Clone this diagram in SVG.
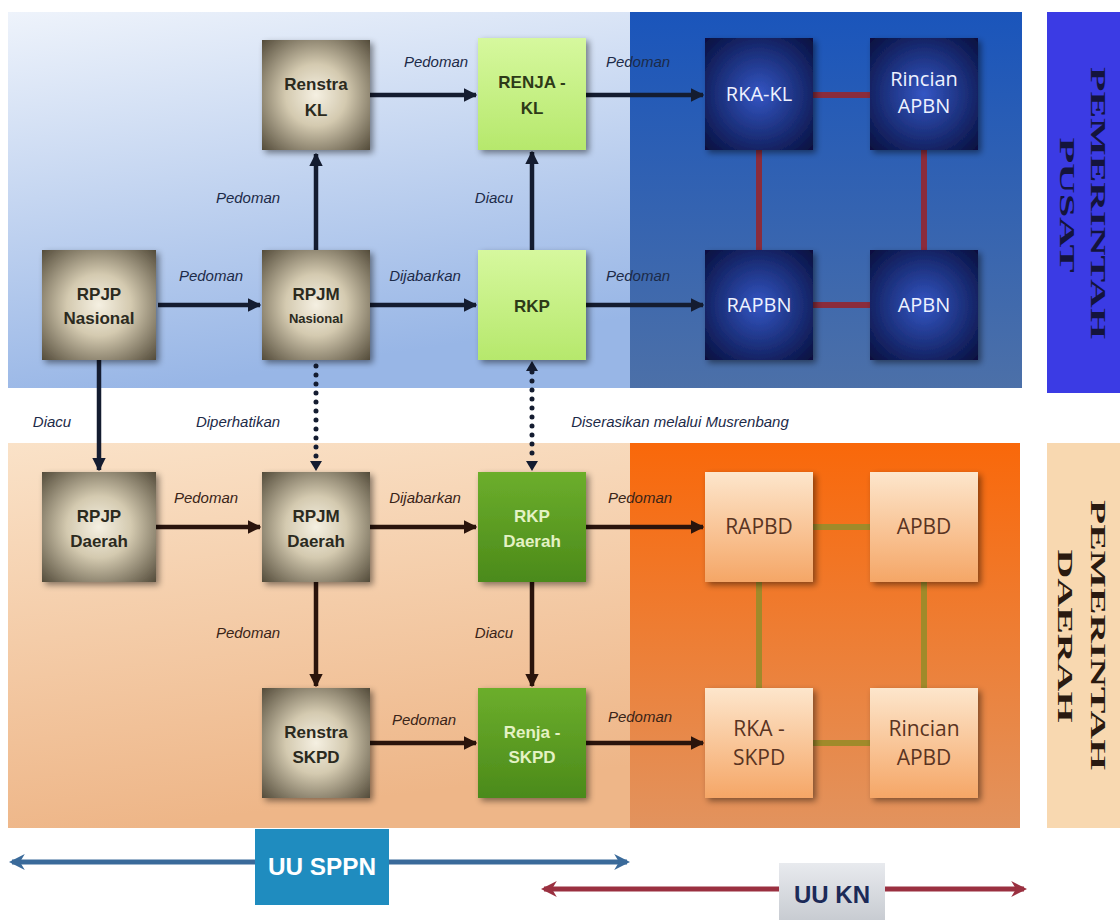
<svg xmlns="http://www.w3.org/2000/svg" width="1120" height="920" viewBox="0 0 1120 920">
<style>
.tn{font-family:"Liberation Sans",Arial,sans-serif;font-weight:bold;font-size:17px;fill:#2b2a1e;text-anchor:middle}
.tn.sm{font-size:13px}
.bn{font-family:"Open Sans","Liberation Sans",sans-serif;font-size:20px;fill:#eef2ff;text-anchor:middle}
.gn{font-family:"Liberation Sans",Arial,sans-serif;font-weight:bold;font-size:17px;fill:#2e3a18;text-anchor:middle}
.dg{font-family:"Liberation Sans",Arial,sans-serif;font-weight:bold;font-size:17px;fill:#e4f2c4;text-anchor:middle}
.pn{font-family:"Open Sans","Liberation Sans",sans-serif;font-size:21px;fill:#5a3422;text-anchor:middle}
.lbl{font-family:"Liberation Sans",Arial,sans-serif;font-style:italic;font-size:15px;fill:#1c2a48;text-anchor:middle}
.lblb{font-family:"Liberation Sans",Arial,sans-serif;font-style:italic;font-size:15px;fill:#3a2418;text-anchor:middle}
.side{font-family:"Liberation Serif",serif;font-weight:bold;font-size:21px;text-anchor:middle}
.ct{stroke:#141c30;stroke-width:4.5;fill:none}
.cb{stroke:#2a140c;stroke-width:4.5;fill:none}
.dot{stroke-width:5;stroke-dasharray:0 9;stroke-linecap:round;fill:none}
.rl{stroke:#8a2c3c;stroke-width:6}
.ol{stroke:#a08a2a;stroke-width:6}
</style>
<defs>
<linearGradient id="gTL" x1="0" y1="0" x2="0.25" y2="1"><stop offset="0" stop-color="#eef3fb"/><stop offset="1" stop-color="#98b6e6"/></linearGradient>
<linearGradient id="gTR" x1="0" y1="0" x2="0" y2="1"><stop offset="0" stop-color="#1a55bb"/><stop offset="1" stop-color="#4c70a8"/></linearGradient>
<linearGradient id="gBL" x1="0" y1="0" x2="0.2" y2="1"><stop offset="0" stop-color="#fae2c8"/><stop offset="1" stop-color="#eeb688"/></linearGradient>
<linearGradient id="gBR" x1="0" y1="0" x2="0" y2="1"><stop offset="0" stop-color="#f9680a"/><stop offset="1" stop-color="#e2935e"/></linearGradient>
<radialGradient id="gTan" cx="50%" cy="50%" r="70%"><stop offset="0" stop-color="#f5f0e2"/><stop offset="0.4" stop-color="#d4cab0"/><stop offset="1" stop-color="#554d3c"/></radialGradient>
<radialGradient id="gNavy" cx="50%" cy="50%" r="70%"><stop offset="0" stop-color="#3456c4"/><stop offset="1" stop-color="#070f3e"/></radialGradient>
<linearGradient id="gLG" x1="0" y1="0" x2="0" y2="1"><stop offset="0" stop-color="#d6f89e"/><stop offset="1" stop-color="#b6e86c"/></linearGradient>
<linearGradient id="gDG" x1="0" y1="0" x2="0" y2="1"><stop offset="0" stop-color="#6cae2c"/><stop offset="1" stop-color="#4b8a1a"/></linearGradient>
<linearGradient id="gPe" x1="0" y1="0" x2="0" y2="1"><stop offset="0" stop-color="#fde6cc"/><stop offset="1" stop-color="#f5a666"/></linearGradient>
<linearGradient id="gKN" x1="0" y1="0" x2="0" y2="1"><stop offset="0" stop-color="#e8eaee"/><stop offset="1" stop-color="#c8ccd2"/></linearGradient>
<filter id="sh" x="-20%" y="-20%" width="140%" height="140%"><feDropShadow dx="3" dy="3" stdDeviation="3" flood-color="#000" flood-opacity="0.45"/></filter>
<marker id="aT" viewBox="0 0 10 10" refX="9" refY="5" markerWidth="3" markerHeight="3" orient="auto-start-reverse"><path d="M0,0 L10,5 L0,10 z" fill="#141c30"/></marker>
<marker id="aB" viewBox="0 0 10 10" refX="9" refY="5" markerWidth="3" markerHeight="3" orient="auto-start-reverse"><path d="M0,0 L10,5 L0,10 z" fill="#2a140c"/></marker>
<marker id="aSP" viewBox="0 0 10 10" refX="8" refY="5" markerWidth="3.2" markerHeight="4" orient="auto-start-reverse"><path d="M0,0 L10,5 L0,10 L3,5 z" fill="#3a6a9a"/></marker>
<marker id="aKN" viewBox="0 0 10 10" refX="8" refY="5" markerWidth="3.2" markerHeight="4" orient="auto-start-reverse"><path d="M0,0 L10,5 L0,10 L3,5 z" fill="#9a3040"/></marker>
</defs>

<g id="panels">
<rect x="8" y="12" width="622" height="376" fill="url(#gTL)"/>
<rect x="630" y="12" width="392" height="376" fill="url(#gTR)"/>
<rect x="8" y="443" width="622" height="385" fill="url(#gBL)"/>
<rect x="630" y="443" width="390" height="385" fill="url(#gBR)"/>
</g>

<g id="pemerintah-pusat">
<rect x="1047" y="12" width="73" height="381" fill="#3b3be4"/>
<text class="side" fill="#14143c" transform="translate(1091,203) rotate(90)" textLength="272" lengthAdjust="spacingAndGlyphs">PEMERINTAH</text>
<text class="side" fill="#14143c" transform="translate(1060,205) rotate(90)" textLength="135" lengthAdjust="spacingAndGlyphs">PUSAT</text>
</g>
<g id="pemerintah-daerah">
<rect x="1047" y="443" width="73" height="385" fill="#f8d8b0"/>
<text class="side" fill="#2a1a10" transform="translate(1091,635) rotate(90)" textLength="270" lengthAdjust="spacingAndGlyphs">PEMERINTAH</text>
<text class="side" fill="#2a1a10" transform="translate(1058,636) rotate(90)" textLength="173" lengthAdjust="spacingAndGlyphs">DAERAH</text>
</g>

<g id="connectors">
<line class="ct" x1="158" y1="305" x2="260" y2="305" marker-end="url(#aT)"/>
<line class="ct" x1="316" y1="250" x2="316" y2="154" marker-end="url(#aT)"/>
<line class="ct" x1="370" y1="95" x2="476" y2="95" marker-end="url(#aT)"/>
<line class="ct" x1="370" y1="305" x2="476" y2="305" marker-end="url(#aT)"/>
<line class="ct" x1="532" y1="250" x2="532" y2="152" marker-end="url(#aT)"/>
<line class="ct" x1="586" y1="95" x2="703" y2="95" marker-end="url(#aT)"/>
<line class="ct" x1="586" y1="305" x2="703" y2="305" marker-end="url(#aT)"/>
<line class="rl" x1="813" y1="95" x2="870" y2="95"/>
<line class="rl" x1="759" y1="150" x2="759" y2="250"/>
<line class="rl" x1="924" y1="150" x2="924" y2="250"/>
<line class="rl" x1="813" y1="305" x2="870" y2="305"/>
<line class="ct" x1="99" y1="360" x2="99" y2="470" marker-end="url(#aT)"/>
<line class="dot" stroke="#141c30" x1="316" y1="366" x2="316" y2="462"/>
<path d="M310,461 L316,471 L322,461 z" fill="#141c30"/>
<line class="dot" stroke="#141c30" x1="532" y1="372" x2="532" y2="462"/>
<path d="M526,371 L532,361 L538,371 z" fill="#141c30"/>
<path d="M526,461 L532,471 L538,461 z" fill="#141c30"/>
<line class="cb" x1="156" y1="527" x2="260" y2="527" marker-end="url(#aB)"/>
<line class="cb" x1="370" y1="527" x2="476" y2="527" marker-end="url(#aB)"/>
<line class="cb" x1="586" y1="527" x2="703" y2="527" marker-end="url(#aB)"/>
<line class="cb" x1="316" y1="582" x2="316" y2="686" marker-end="url(#aB)"/>
<line class="cb" x1="532" y1="582" x2="532" y2="686" marker-end="url(#aB)"/>
<line class="cb" x1="370" y1="743" x2="476" y2="743" marker-end="url(#aB)"/>
<line class="cb" x1="586" y1="743" x2="703" y2="743" marker-end="url(#aB)"/>
<line class="ol" x1="813" y1="527" x2="870" y2="527"/>
<line class="ol" x1="759" y1="582" x2="759" y2="688"/>
<line class="ol" x1="924" y1="582" x2="924" y2="688"/>
<line class="ol" x1="813" y1="743" x2="870" y2="743"/>
<text class="lbl" x="211" y="281">Pedoman</text>
<text class="lbl" x="248" y="203">Pedoman</text>
<text class="lbl" x="436" y="67">Pedoman</text>
<text class="lbl" x="425" y="281">Dijabarkan</text>
<text class="lbl" x="494" y="203">Diacu</text>
<text class="lbl" x="638" y="67">Pedoman</text>
<text class="lbl" x="638" y="281">Pedoman</text>
<text class="lbl" x="52" y="427">Diacu</text>
<text class="lbl" x="238" y="427">Diperhatikan</text>
<text class="lbl" x="680" y="427">Diserasikan melalui Musrenbang</text>
<text class="lblb" x="206" y="503">Pedoman</text>
<text class="lblb" x="425" y="503">Dijabarkan</text>
<text class="lblb" x="640" y="503">Pedoman</text>
<text class="lblb" x="248" y="638">Pedoman</text>
<text class="lblb" x="494" y="638">Diacu</text>
<text class="lblb" x="424" y="725">Pedoman</text>
<text class="lblb" x="640" y="722">Pedoman</text>
</g>

<g id="rpjp-nasional"><rect x="42" y="250" width="114" height="110" fill="url(#gTan)" filter="url(#sh)"/><text class="tn" x="99" y="300">RPJP</text><text class="tn" x="99" y="324">Nasional</text></g>
<g id="rpjm-nasional"><rect x="262" y="250" width="108" height="110" fill="url(#gTan)" filter="url(#sh)"/><text class="tn" x="316" y="300">RPJM</text><text class="tn sm" x="316" y="323">Nasional</text></g>
<g id="renstra-kl"><rect x="262" y="40" width="108" height="110" fill="url(#gTan)" filter="url(#sh)"/><text class="tn" x="316" y="90">Renstra</text><text class="tn" x="316" y="116">KL</text></g>
<g id="renja-kl"><rect x="478" y="38" width="108" height="112" fill="url(#gLG)" filter="url(#sh)"/><text class="gn" x="532" y="88">RENJA -</text><text class="gn" x="532" y="114">KL</text></g>
<g id="rkp"><rect x="478" y="250" width="108" height="110" fill="url(#gLG)" filter="url(#sh)"/><text class="gn" x="532" y="312">RKP</text></g>
<g id="rka-kl"><rect x="705" y="38" width="108" height="112" fill="url(#gNavy)" filter="url(#sh)"/><text class="bn" x="759" y="101">RKA-KL</text></g>
<g id="rincian-apbn"><rect x="870" y="38" width="108" height="112" fill="url(#gNavy)" filter="url(#sh)"/><text class="bn" x="924" y="86">Rincian</text><text class="bn" x="924" y="113">APBN</text></g>
<g id="rapbn"><rect x="705" y="250" width="108" height="110" fill="url(#gNavy)" filter="url(#sh)"/><text class="bn" x="759" y="312">RAPBN</text></g>
<g id="apbn"><rect x="870" y="250" width="108" height="110" fill="url(#gNavy)" filter="url(#sh)"/><text class="bn" x="924" y="312">APBN</text></g>

<g id="rpjp-daerah"><rect x="42" y="472" width="114" height="110" fill="url(#gTan)" filter="url(#sh)"/><text class="tn" x="99" y="522">RPJP</text><text class="tn" x="99" y="547">Daerah</text></g>
<g id="rpjm-daerah"><rect x="262" y="472" width="108" height="110" fill="url(#gTan)" filter="url(#sh)"/><text class="tn" x="316" y="522">RPJM</text><text class="tn" x="316" y="547">Daerah</text></g>
<g id="rkp-daerah"><rect x="478" y="472" width="108" height="110" fill="url(#gDG)" filter="url(#sh)"/><text class="dg" x="532" y="522">RKP</text><text class="dg" x="532" y="547">Daerah</text></g>
<g id="renstra-skpd"><rect x="262" y="688" width="108" height="110" fill="url(#gTan)" filter="url(#sh)"/><text class="tn" x="316" y="738">Renstra</text><text class="tn" x="316" y="763">SKPD</text></g>
<g id="renja-skpd"><rect x="478" y="688" width="108" height="110" fill="url(#gDG)" filter="url(#sh)"/><text class="dg" x="532" y="738">Renja -</text><text class="dg" x="532" y="763">SKPD</text></g>
<g id="rapbd"><rect x="705" y="472" width="108" height="110" fill="url(#gPe)" filter="url(#sh)"/><text class="pn" x="759" y="534">RAPBD</text></g>
<g id="apbd"><rect x="870" y="472" width="108" height="110" fill="url(#gPe)" filter="url(#sh)"/><text class="pn" x="924" y="534">APBD</text></g>
<g id="rka-skpd"><rect x="705" y="688" width="108" height="110" fill="url(#gPe)" filter="url(#sh)"/><text class="pn" x="759" y="736">RKA -</text><text class="pn" x="759" y="765">SKPD</text></g>
<g id="rincian-apbd"><rect x="870" y="688" width="108" height="110" fill="url(#gPe)" filter="url(#sh)"/><text class="pn" x="924" y="736">Rincian</text><text class="pn" x="924" y="765">APBD</text></g>

<g id="uu-sppn">
<line x1="12" y1="862" x2="627" y2="862" stroke="#3a6a9a" stroke-width="5" marker-start="url(#aSP)" marker-end="url(#aSP)"/>
<rect x="255" y="829" width="134" height="76" fill="#1f8cbf"/>
<text x="322" y="875" font-family="Liberation Sans,Arial,sans-serif" font-weight="bold" font-size="24" fill="#ffffff" text-anchor="middle" textLength="108" lengthAdjust="spacingAndGlyphs">UU SPPN</text>
</g>
<g id="uu-kn">
<line x1="544" y1="889" x2="1024" y2="889" stroke="#9a3040" stroke-width="5" marker-start="url(#aKN)" marker-end="url(#aKN)"/>
<rect x="779" y="863" width="106" height="57" fill="url(#gKN)"/>
<text x="832" y="903" font-family="Liberation Sans,Arial,sans-serif" font-weight="bold" font-size="24" fill="#1c2a58" text-anchor="middle" textLength="76" lengthAdjust="spacingAndGlyphs">UU KN</text>
</g>
</svg>
